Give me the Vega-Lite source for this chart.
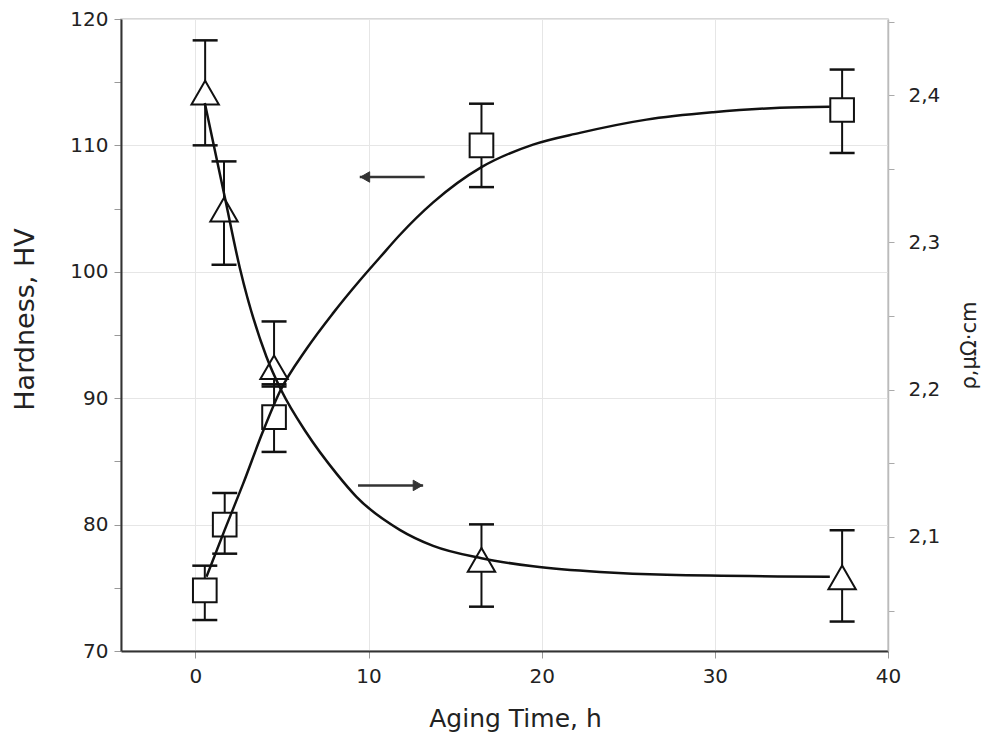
{
  "$schema": "https://vega.github.io/schema/vega-lite/v6.json",
  "width": 767,
  "height": 632,
  "autosize": {"type": "none"},
  "padding": {"left": 121, "top": 19, "right": 96, "bottom": 84},
  "background": "white",
  "config": {
    "view": {"stroke": "#cccccc", "strokeWidth": 1.5},
    "font": "DejaVu Sans"
  },
  "datasets": {
    "hard": [
      {"t": 0.54, "v": 74.8, "lo": 72.45, "hi": 76.75},
      {"t": 1.69, "v": 80.0, "lo": 77.7, "hi": 82.5},
      {"t": 4.54, "v": 88.5, "lo": 85.75, "hi": 91.1},
      {"t": 16.52, "v": 110.0, "lo": 106.7, "hi": 113.3},
      {"t": 37.35, "v": 112.8, "lo": 109.4, "hi": 116.0}
    ],
    "rho": [
      {"t": 0.56, "v": 2.4017, "lo": 2.3659, "hi": 2.4372},
      {"t": 1.65, "v": 2.3222, "lo": 2.2848, "hi": 2.355},
      {"t": 4.54, "v": 2.2152, "lo": 2.2021, "hi": 2.2463},
      {"t": 16.52, "v": 2.0844, "lo": 2.0526, "hi": 2.1085},
      {"t": 37.35, "v": 2.0725, "lo": 2.0425, "hi": 2.1045}
    ],
    "hardCurve": [
      {"t": 0.64, "v": 75.88}, {"t": 1.69, "v": 79.58}, {"t": 2.75, "v": 83.22},
      {"t": 3.89, "v": 87.34}, {"t": 4.87, "v": 90.51}, {"t": 6.41, "v": 93.89},
      {"t": 7.95, "v": 96.73}, {"t": 9.49, "v": 99.31}, {"t": 10.65, "v": 101.13},
      {"t": 11.8, "v": 102.91}, {"t": 13.73, "v": 105.49}, {"t": 16.52, "v": 108.28},
      {"t": 19.5, "v": 110.06}, {"t": 22.2, "v": 110.99}, {"t": 26.05, "v": 112.04},
      {"t": 29.9, "v": 112.62}, {"t": 33.75, "v": 112.97}, {"t": 36.64, "v": 113.05}
    ],
    "rhoCurve": [
      {"t": 0.54, "v": 2.3947}, {"t": 1.69, "v": 2.331}, {"t": 2.56, "v": 2.2828},
      {"t": 4.1, "v": 2.2223}, {"t": 4.97, "v": 2.1992}, {"t": 6.41, "v": 2.1707},
      {"t": 8.16, "v": 2.1428}, {"t": 9.3, "v": 2.1272}, {"t": 11.8, "v": 2.1048},
      {"t": 13.73, "v": 2.0939}, {"t": 16.52, "v": 2.0855}, {"t": 19.5, "v": 2.08},
      {"t": 23.36, "v": 2.0761}, {"t": 27.21, "v": 2.0742}, {"t": 36.64, "v": 2.073}
    ],
    "arrows": [
      {"dir": "left", "t0": 9.49, "t1": 13.24, "head": 9.8, "v": 107.5},
      {"dir": "right", "t0": 9.39, "t1": 13.15, "head": 12.84, "v": 83.1}
    ]
  },
  "resolve": {"scale": {"y": "independent"}, "axis": {"y": "independent"}},
  "layer": [
    {
      "layer": [
        {
          "data": {"name": "hard"},
          "mark": {"type": "rule", "stroke": "#111111", "strokeWidth": 2},
          "encoding": {
            "x": {
              "field": "t", "type": "quantitative",
              "scale": {"domain": [-4.3, 40], "nice": false, "zero": false},
              "axis": {
                "values": [0, 10, 20, 30, 40], "format": "d",
                "title": "Aging Time, h", "titleFont": "DejaVu Sans", "titleFontSize": 25,
                "titleFontWeight": "normal", "titleColor": "#222222", "titlePadding": 20, "titleX": 394,
                "labelFont": "DejaVu Sans", "labelFontSize": 20, "labelColor": "#222222",
                "labelPadding": 8, "labelFlush": false,
                "tickColor": "#999999", "tickSize": 7, "tickWidth": 1,
                "domainColor": "#333333", "domainWidth": 2,
                "grid": true, "gridColor": "#e6e6e6", "gridWidth": 1
              }
            },
            "y": {
              "field": "lo", "type": "quantitative",
              "scale": {"domain": [70, 120], "nice": false, "zero": false},
              "axis": {
                "orient": "left",
                "values": [70, 75, 80, 85, 90, 95, 100, 105, 110, 115, 120],
                "title": "Hardness, HV", "titleFont": "DejaVu Sans", "titleFontSize": 27,
                "titleFontWeight": "normal", "titleColor": "#222222", "titlePadding": 30, "titleY": 300,
                "labelFont": "DejaVu Sans", "labelFontSize": 20, "labelColor": "#222222", "labelPadding": 6,
                "labelExpr": "datum.value % 10 === 0 ? datum.label : ''",
                "tickColor": "#999999", "tickSize": 7, "tickWidth": 1,
                "domainColor": "#333333", "domainWidth": 2,
                "grid": true, "gridColor": "#e6e6e6", "gridWidth": 1,
                "gridOpacity": {"condition": {"test": "datum.value % 10 === 0", "value": 1}, "value": 0}
              }
            },
            "y2": {"field": "hi"}
          }
        },
        {
          "data": {"name": "hard"},
          "mark": {"type": "point", "shape": "M-1,0L1,0", "size": 625, "filled": false, "stroke": "#111111", "strokeWidth": 2.5, "opacity": 1},
          "encoding": {
            "x": {"field": "t", "type": "quantitative"},
            "y": {"field": "lo", "type": "quantitative"}
          }
        },
        {
          "data": {"name": "hard"},
          "mark": {"type": "point", "shape": "M-1,0L1,0", "size": 625, "filled": false, "stroke": "#111111", "strokeWidth": 2.5, "opacity": 1},
          "encoding": {
            "x": {"field": "t", "type": "quantitative"},
            "y": {"field": "hi", "type": "quantitative"}
          }
        },
        {
          "data": {"name": "hard"},
          "mark": {"type": "point", "shape": "square", "size": 560, "filled": true, "fill": "white", "stroke": "#111111", "strokeWidth": 2, "opacity": 1},
          "encoding": {
            "x": {"field": "t", "type": "quantitative"},
            "y": {"field": "v", "type": "quantitative"}
          }
        },
        {
          "data": {"name": "arrows"},
          "mark": {"type": "rule", "stroke": "#333333", "strokeWidth": 2.5},
          "encoding": {
            "x": {"field": "t0", "type": "quantitative"},
            "x2": {"field": "t1"},
            "y": {"field": "v", "type": "quantitative"}
          }
        },
        {
          "data": {"name": "arrows"},
          "mark": {"type": "point", "filled": true, "size": 110, "fill": "#333333", "stroke": "#333333", "strokeWidth": 1, "opacity": 1},
          "encoding": {
            "x": {"field": "head", "type": "quantitative"},
            "y": {"field": "v", "type": "quantitative"},
            "shape": {"field": "dir", "type": "nominal", "legend": null,
              "scale": {"domain": ["left", "right"], "range": ["triangle-left", "triangle-right"]}}
          }
        },
        {
          "data": {"name": "hardCurve"},
          "mark": {"type": "line", "interpolate": "monotone", "stroke": "#111111", "strokeWidth": 2.5},
          "encoding": {
            "x": {"field": "t", "type": "quantitative"},
            "y": {"field": "v", "type": "quantitative"}
          }
        }
      ]
    },
    {
      "layer": [
        {
          "data": {"name": "rho"},
          "mark": {"type": "rule", "stroke": "#111111", "strokeWidth": 2},
          "encoding": {
            "x": {"field": "t", "type": "quantitative"},
            "y": {
              "field": "lo", "type": "quantitative",
              "scale": {"domain": [2.0225, 2.4517], "nice": false, "zero": false},
              "axis": {
                "orient": "right",
                "values": [2.05, 2.1, 2.15, 2.2, 2.25, 2.3, 2.35, 2.4, 2.45],
                "title": "ρ,µΩ·cm", "titleFont": "DejaVu Sans", "titleFontSize": 21,
                "titleFontWeight": "normal", "titleColor": "#222222", "titlePadding": 19,
                "titleAngle": 270, "titleBaseline": "top", "titleY": 326,
                "labelFont": "DejaVu Sans", "labelFontSize": 20, "labelColor": "#222222", "labelPadding": 14,
                "labelExpr": "round(datum.value * 100) % 10 === 0 ? replace(format(datum.value, '.1f'), '.', ',') : ''",
                "tickColor": "#aaaaaa", "tickSize": 6, "tickWidth": 1,
                "domainColor": "#bbbbbb", "domainWidth": 1.5,
                "grid": false
              }
            },
            "y2": {"field": "hi"}
          }
        },
        {
          "data": {"name": "rho"},
          "mark": {"type": "point", "shape": "M-1,0L1,0", "size": 625, "filled": false, "stroke": "#111111", "strokeWidth": 2.5, "opacity": 1},
          "encoding": {
            "x": {"field": "t", "type": "quantitative"},
            "y": {"field": "lo", "type": "quantitative"}
          }
        },
        {
          "data": {"name": "rho"},
          "mark": {"type": "point", "shape": "M-1,0L1,0", "size": 625, "filled": false, "stroke": "#111111", "strokeWidth": 2.5, "opacity": 1},
          "encoding": {
            "x": {"field": "t", "type": "quantitative"},
            "y": {"field": "hi", "type": "quantitative"}
          }
        },
        {
          "data": {"name": "rho"},
          "mark": {"type": "point", "shape": "triangle-up", "size": 750, "filled": true, "fill": "white", "stroke": "#111111", "strokeWidth": 2, "opacity": 1},
          "encoding": {
            "x": {"field": "t", "type": "quantitative"},
            "y": {"field": "v", "type": "quantitative"}
          }
        },
        {
          "data": {"name": "rhoCurve"},
          "mark": {"type": "line", "interpolate": "monotone", "stroke": "#111111", "strokeWidth": 2.5},
          "encoding": {
            "x": {"field": "t", "type": "quantitative"},
            "y": {"field": "v", "type": "quantitative"}
          }
        }
      ]
    }
  ]
}
